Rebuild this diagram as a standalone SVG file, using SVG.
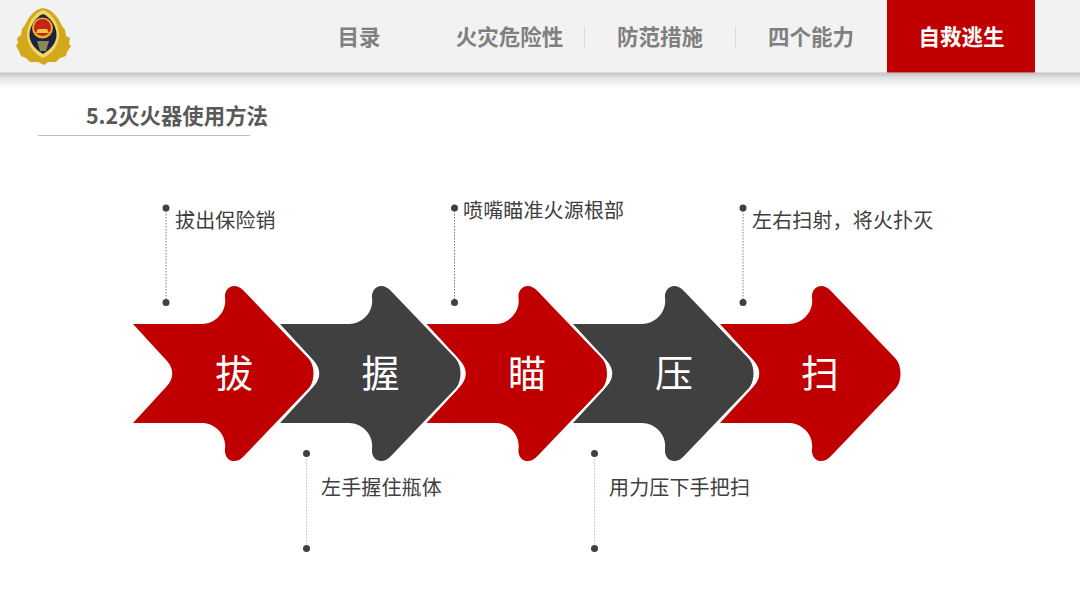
<svg xmlns="http://www.w3.org/2000/svg" width="1080" height="608" viewBox="0 0 1080 608">
<style>
text{font-family:"Noto Sans CJK SC","Liberation Sans",sans-serif}
.nav{font-size:21.500px;font-weight:700;fill:#7f7f7f;text-anchor:middle}
.lab{font-size:20px;fill:#404040;letter-spacing:.15px}
.big{font-size:38px;fill:#fff;text-anchor:middle;font-weight:400}
.r{fill:#c00000}.g{fill:#404040}
.ar{stroke:#fff;stroke-width:4;stroke-linejoin:round;paint-order:stroke}
.dot{fill:#404040}
.l1{stroke:#7f7f7f;stroke-width:1;stroke-dasharray:1.5 1.5;fill:none}
.l2{stroke:#bfbfbf;stroke-width:1;stroke-dasharray:1.5 1.5;fill:none}
</style>
<defs>
<path id="arrow" d="M133,324 L202,324 C215,324 227,312 225,298 C224,287 235,281 244,291 L309,359 C315,366 315,381 309,388 L244,456 C235,466 224,460 225,449 C227,435 215,423 202,423 L133,423 L167,386 C174,378 174,369 167,361 Z"/>
<linearGradient id="sh" x1="0" y1="0" x2="0" y2="1"><stop offset="0" stop-color="#bdbdbd"/><stop offset=".4" stop-color="#e6e6e6"/><stop offset="1" stop-color="#fff"/></linearGradient>
<filter id="soft" x="-10%" y="-10%" width="120%" height="120%"><feGaussianBlur stdDeviation="0.7"/></filter>
</defs>
<rect width="1080" height="608" fill="#fff"/>
<g id="header">
<rect x="0" y="72" width="1080" height="16" fill="url(#sh)"/>
<rect x="0" y="0" width="1080" height="72.500" fill="#f2f2f2"/>
<rect x="887" y="0" width="148" height="72.500" fill="#c00000"/>
<path d="M584.500,26V47M735.500,26V47" stroke="#d9d9d9" stroke-width="1"/>
<text class="nav" x="359" y="45">目录</text>
<text class="nav" x="509.500" y="45">火灾危险性</text>
<text class="nav" x="660" y="45">防范措施</text>
<text class="nav" x="811" y="45">四个能力</text>
<text class="nav" x="961.500" y="45" style="fill:#fff">自救逃生</text>
</g>
<g id="logo" filter="url(#soft)">
<path d="M43,8 C51,9 58,16 62,26 L65,30 L66,36 L70,38 L69,44 L71,46 L67,52 L66,56 L60,58 L56,62 L48,62 L44,65 L38,62 L30,62 L26,58 L21,56 L19,51 L16,46 L18,43 L17,38 L21,35 L22,29 L25,25 C29,16 35,9 43,8 Z" fill="#d2a91c"/>
<path d="M43,10 C51,13 58,22 59,33 C60,44 52,54 43,58 C34,54 26,44 27,33 C28,22 35,13 43,10 Z" fill="#f0d868"/>
<path d="M43,14 C50,17 56,25 56.500,34 C57,43 50,50 43,54 C36,50 29,43 29.500,34 C30,25 36,17 43,14 Z" fill="#1c2140"/>
<circle cx="42.500" cy="28" r="10.500" fill="#e8b020"/>
<circle cx="42.500" cy="27.500" r="8.500" fill="#c8241c"/>
<path d="M36,33H49L47,29H38Z" fill="#f0c83c"/>
<path d="M37,41H49L46,51H40Z" fill="#8a8a58"/>
</g>
<g id="title">
<text x="86" y="124" font-size="21.400" font-weight="700" fill="#595959">5.2灭火器使用方法</text>
<path d="M38,135.500H250" stroke="#bfbfbf" stroke-width="1"/>
</g>
<g id="connectors">
<path class="l1" d="M166,208V302"/>
<path class="l1" d="M454.500,208V302"/>
<path class="l1" d="M743,208V302"/>
<path class="l2" d="M306.500,453V548"/>
<path class="l2" d="M594.500,453V548"/>
<g class="dot">
<circle cx="166" cy="208" r="3.500"/><circle cx="166" cy="302.500" r="3.500"/>
<circle cx="454.500" cy="208" r="3.500"/><circle cx="454.500" cy="302.500" r="3.500"/>
<circle cx="743" cy="208" r="3.500"/><circle cx="743" cy="302.500" r="3.500"/>
<circle cx="306.500" cy="453.500" r="3.500"/><circle cx="306.500" cy="548.500" r="3.500"/>
<circle cx="594.500" cy="453.500" r="3.500"/><circle cx="594.500" cy="548.500" r="3.500"/>
</g>
</g>
<g id="node-sao"><use href="#arrow" x="587" class="r"/><text class="big" x="820" y="387">扫</text></g>
<g id="node-ya"><use href="#arrow" x="440" class="g ar"/><text class="big" x="674" y="387">压</text></g>
<g id="node-miao"><use href="#arrow" x="293.500" class="r ar"/><text class="big" x="527" y="387">瞄</text></g>
<g id="node-wo"><use href="#arrow" x="147" class="g ar"/><text class="big" x="380.500" y="387">握</text></g>
<g id="node-ba"><use href="#arrow" class="r ar"/><text class="big" x="234" y="387">拔</text></g>
<g id="labels">
<text class="lab" x="175" y="228">拔出保险销</text>
<text class="lab" x="463" y="218">喷嘴瞄准火源根部</text>
<text class="lab" x="752" y="228">左右扫射，将火扑灭</text>
<text class="lab" x="321" y="495">左手握住瓶体</text>
<text class="lab" x="609" y="495">用力压下手把扫</text>
</g>
</svg>
